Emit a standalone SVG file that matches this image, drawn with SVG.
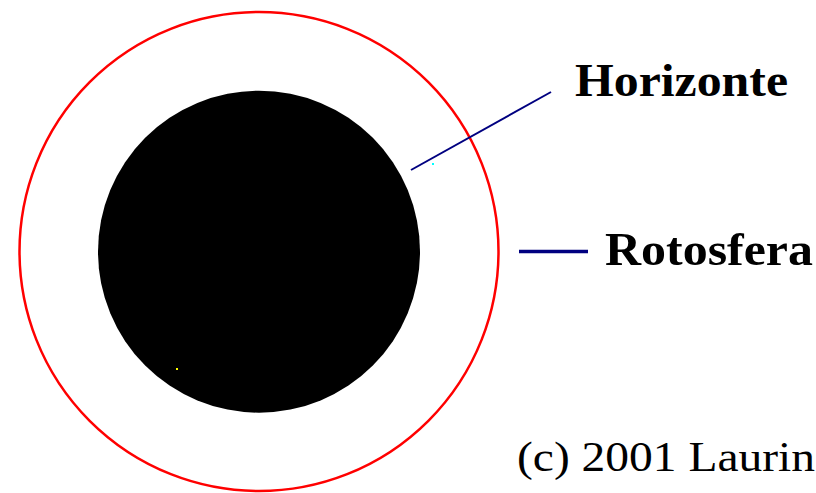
<svg xmlns="http://www.w3.org/2000/svg" width="816" height="493" viewBox="0 0 816 493">
<style>
.lbl{font-family:"Liberation Serif","Times New Roman",serif;font-weight:bold;fill:#000}
.copy{font-family:"Liberation Serif","Times New Roman",serif;font-weight:normal;fill:#000}
.conn{stroke:#000080;fill:none}
</style>
<rect width="816" height="493" fill="#fff"/>
<g id="rotosfera-ring">
<circle cx="259" cy="251.5" r="239.5" fill="none" stroke="#ff0000" stroke-width="2.5"/>
</g>
<g id="horizonte-disk">
<circle cx="259" cy="251.7" r="161" fill="#000"/>
<rect x="176" y="368" width="2" height="2" fill="#ffff00"/>
</g>
<g id="connectors">
<line class="conn" x1="411" y1="170" x2="551" y2="92" stroke-width="2"/>
<line class="conn" x1="519" y1="251.5" x2="588" y2="251.5" stroke-width="3.5"/>
<rect x="432" y="163" width="2" height="2" fill="#00ffff"/>
</g>
<g id="label-horizonte">
<text class="lbl" x="575" y="96" font-size="46" textLength="213" lengthAdjust="spacingAndGlyphs">Horizonte</text>
</g>
<g id="label-rotosfera">
<text class="lbl" x="605" y="265" font-size="47" textLength="208" lengthAdjust="spacingAndGlyphs">Rotosfera</text>
</g>
<g id="copyright">
<text class="copy" x="517" y="471" font-size="42" textLength="298" lengthAdjust="spacingAndGlyphs">(c) 2001 Laurin</text>
</g>
</svg>
